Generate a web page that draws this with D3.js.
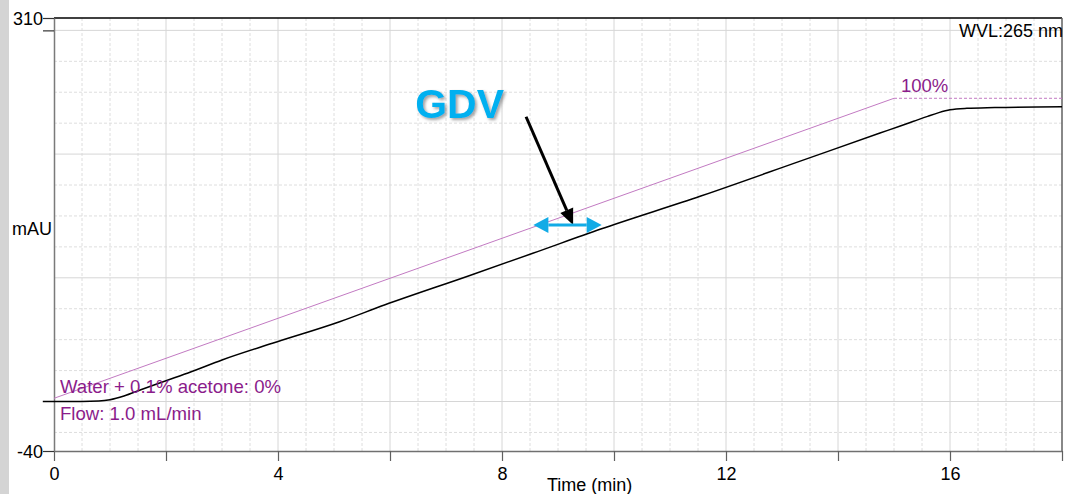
<!DOCTYPE html>
<html>
<head>
<meta charset="utf-8">
<script src="https://cdn.jsdelivr.net/npm/d3@7"></script>
<style>
  body { margin: 0; background: #fff; }
  svg { display: block; font-family: "Liberation Sans", Arial, sans-serif; }
</style>
</head>
<body>
<svg id="chart"></svg>
<script>
// chromatogram trace (time in min, absorbance in mAU)
const timeMin = [-0.2, 0.5, 0.8, 1.0, 1.25, 1.55, 2.0, 2.45, 3.0, 3.9, 5.1, 5.9, 7.4, 8.55, 9.75, 11.55, 13.3, 14.75, 15.1, 15.35, 15.6, 15.8, 16.0, 16.3, 16.8, 18];
const absMau = [0, 0, 0.4, 1.5, 4.5, 9.5, 16.8, 24.1, 33.6, 47.1, 64.5, 78, 101.5, 119.8, 139.2, 166.1, 193.9, 217, 222.5, 226.5, 230.5, 233.5, 235.8, 237, 237.6, 238.3];

// gradient program (% acetone)
const gradTime = [0, 15, 18];
const gradPct = [0, 100, 100];

// ticks
const xTickLabels = [0, 4, 8, 12, 16];
const xMajorTicks = [0, 2, 4, 6, 8, 10, 12, 14, 16, 18];
const yTickLabels = [310, -40];
const yMajorTicks = [310, 300, -40];

// GDV annotation, in data units
const gdvSpan = [8.56, 9.78];
const gdvLevel = 142.7;
const gdvPointer = [[8.43, 230.2], [9.27, 142.7]];
const gdvLabelAt = [6.45, 229.2];

const W = 1066, H = 494;
const margin = { left: 54, right: 1062, top: 18, bottom: 451 };
const purple = "#8b1c8b";
const gradColor = "#c27ac2";
const blue = "#12abe6";

const svg = d3.select("#chart").attr("width", W).attr("height", H);

// grey strip on the left edge
svg.append("rect").attr("x", 0).attr("y", 0).attr("width", 9).attr("height", H).attr("fill", "#d4d4d4");

const x = d3.scaleLinear().domain([0, 18]).range([margin.left, margin.right]);
const y = d3.scaleLinear().domain([-40, 310]).range([margin.bottom, margin.top]);
// gradient % drawn on its own scale, mapped into mAU space
const pct = d3.scaleLinear().domain([0, 100]).range([2.6, 245.1]);

// minor grid (dashed)
const minorX = d3.range(0.5, 18, 0.5).filter((d) => d % 2 !== 0);
const minorY = d3.range(-25, 310, 25).filter((d) => d % 100 !== 0);

svg.append("g")
  .selectAll("line")
  .data(minorX)
  .join("line")
  .attr("x1", (d) => x(d)).attr("x2", (d) => x(d))
  .attr("y1", margin.top).attr("y2", margin.bottom)
  .attr("stroke", "#dedede").attr("stroke-dasharray", "3,2");

svg.append("g")
  .selectAll("line")
  .data(minorY)
  .join("line")
  .attr("x1", margin.left).attr("x2", margin.right)
  .attr("y1", (d) => y(d)).attr("y2", (d) => y(d))
  .attr("stroke", "#dedede").attr("stroke-dasharray", "3,2");

// major grid (solid)
svg.append("g")
  .selectAll("line")
  .data(d3.range(2, 18, 2))
  .join("line")
  .attr("x1", (d) => x(d)).attr("x2", (d) => x(d))
  .attr("y1", margin.top).attr("y2", margin.bottom)
  .attr("stroke", "#d6d6d6");

svg.append("g")
  .selectAll("line")
  .data([0, 100, 200, 300])
  .join("line")
  .attr("x1", margin.left).attr("x2", margin.right)
  .attr("y1", (d) => y(d)).attr("y2", (d) => y(d))
  .attr("stroke", "#d6d6d6");

// frame: top black, right dark grey
svg.append("line")
  .attr("x1", margin.left).attr("x2", margin.right)
  .attr("y1", margin.top).attr("y2", margin.top)
  .attr("stroke", "#000").attr("stroke-width", 1.5);
svg.append("line")
  .attr("x1", margin.right).attr("x2", margin.right)
  .attr("y1", margin.top).attr("y2", margin.bottom)
  .attr("stroke", "#606060").attr("stroke-width", 1.5);

// x axis
const xAxis = svg.append("g")
  .attr("transform", "translate(0," + margin.bottom + ")")
  .call(d3.axisBottom(x).tickValues(xMajorTicks).tickSize(10).tickSizeOuter(0)
    .tickFormat((d) => (xTickLabels.includes(d) ? d : "")));
xAxis.select(".domain").attr("stroke", "#707070").attr("stroke-width", 1.5);
xAxis.selectAll(".tick line").attr("stroke", "#606060").attr("stroke-width", 1.2);
xAxis.selectAll(".tick text")
  .attr("y", 16).attr("dy", "0.71em")
  .attr("fill", "#000").style("font-size", "18px").style("font-family", "Liberation Sans, Arial, sans-serif");

// y axis
const yAxis = svg.append("g")
  .attr("transform", "translate(" + margin.left + ",0)")
  .call(d3.axisLeft(y).tickValues(yMajorTicks).tickSize(11).tickSizeOuter(0)
    .tickFormat((d) => (yTickLabels.includes(d) ? d : "")));
yAxis.select(".domain").attr("stroke", "#7a7a7a").attr("stroke-width", 1.5);
yAxis.selectAll(".tick line").attr("stroke", "#333").attr("stroke-width", 1.2);
yAxis.selectAll(".tick text")
  .attr("x", -11).attr("dy", "0.35em")
  .attr("fill", "#000").style("font-size", "18px").style("font-family", "Liberation Sans, Arial, sans-serif");

// axis titles
svg.append("text")
  .attr("x", 547).attr("y", 491)
  .style("font-size", "18px")
  .text("Time (min)");
svg.append("text")
  .attr("x", 52).attr("y", 235).attr("text-anchor", "end")
  .style("font-size", "18px")
  .text("mAU");
svg.append("text")
  .attr("x", 1063).attr("y", 37).attr("text-anchor", "end")
  .style("font-size", "18px")
  .text("WVL:265 nm");

// gradient line
const gradPts = gradTime.map((t, i) => [x(t), y(pct(gradPct[i]))]);
svg.append("path")
  .attr("d", d3.line()(gradPts.slice(0, 2)))
  .attr("fill", "none").attr("stroke", gradColor).attr("stroke-width", 1);
svg.append("path")
  .attr("d", d3.line()(gradPts.slice(1)))
  .attr("fill", "none").attr("stroke", gradColor).attr("stroke-width", 1)
  .attr("stroke-dasharray", "3,2");

svg.append("text")
  .attr("x", x(gradTime[1]) + 7).attr("y", y(pct(gradPct[1])) - 6)
  .attr("fill", purple).style("font-size", "18.5px")
  .text("100%");

// chromatogram trace
const trace = d3.line()
  .x((d, i) => x(timeMin[i]))
  .y((d) => y(d))
  .curve(d3.curveMonotoneX);

svg.append("path")
  .attr("d", trace(absMau))
  .attr("fill", "none").attr("stroke", "#000").attr("stroke-width", 1.5);

// method notes
svg.append("text")
  .attr("x", 60).attr("y", 393)
  .attr("fill", purple).style("font-size", "18.6px")
  .text("Water + 0.1% acetone: 0%");
svg.append("text")
  .attr("x", 60).attr("y", 420)
  .attr("fill", purple).style("font-size", "18.6px")
  .text("Flow: 1.0 mL/min");

// GDV annotation
const defs = svg.append("defs");
const shadow = defs.append("filter").attr("id", "shadow").attr("x", "-20%").attr("y", "-20%").attr("width", "140%").attr("height", "140%");
shadow.append("feDropShadow")
  .attr("dx", 2).attr("dy", 2).attr("stdDeviation", 1.5)
  .attr("flood-color", "#555").attr("flood-opacity", 0.55);

svg.append("text")
  .attr("x", x(gdvLabelAt[0])).attr("y", y(gdvLabelAt[1]))
  .attr("fill", "#00b0f0")
  .attr("filter", "url(#shadow)")
  .style("font-size", "41px").style("font-weight", "bold")
  .text("GDV");

// black pointer arrow
const p0 = [x(gdvPointer[0][0]), y(gdvPointer[0][1])];
const p1 = [x(gdvPointer[1][0]), y(gdvPointer[1][1])];
const ang = Math.atan2(p1[1] - p0[1], p1[0] - p0[0]);
const headLen = 16, headHalf = 7;
const base = [p1[0] - headLen * Math.cos(ang), p1[1] - headLen * Math.sin(ang)];
svg.append("line")
  .attr("x1", p0[0]).attr("y1", p0[1])
  .attr("x2", base[0]).attr("y2", base[1])
  .attr("stroke", "#000").attr("stroke-width", 3);
svg.append("path")
  .attr("d", d3.line()([
    p1,
    [base[0] + headHalf * Math.sin(ang), base[1] - headHalf * Math.cos(ang)],
    [base[0] - headHalf * Math.sin(ang), base[1] + headHalf * Math.cos(ang)],
  ]) + "Z")
  .attr("fill", "#000");

// blue double arrow
const bx0 = x(gdvSpan[0]), bx1 = x(gdvSpan[1]), by = y(gdvLevel);
const bLen = 15, bHalf = 8;
svg.append("line")
  .attr("x1", bx0 + bLen).attr("x2", bx1 - bLen)
  .attr("y1", by).attr("y2", by)
  .attr("stroke", blue).attr("stroke-width", 3);
svg.append("path")
  .attr("d", d3.line()([[bx0, by], [bx0 + bLen, by - bHalf], [bx0 + bLen, by + bHalf]]) + "Z")
  .attr("fill", blue);
svg.append("path")
  .attr("d", d3.line()([[bx1, by], [bx1 - bLen, by - bHalf], [bx1 - bLen, by + bHalf]]) + "Z")
  .attr("fill", blue);
</script>
</body>
</html>
